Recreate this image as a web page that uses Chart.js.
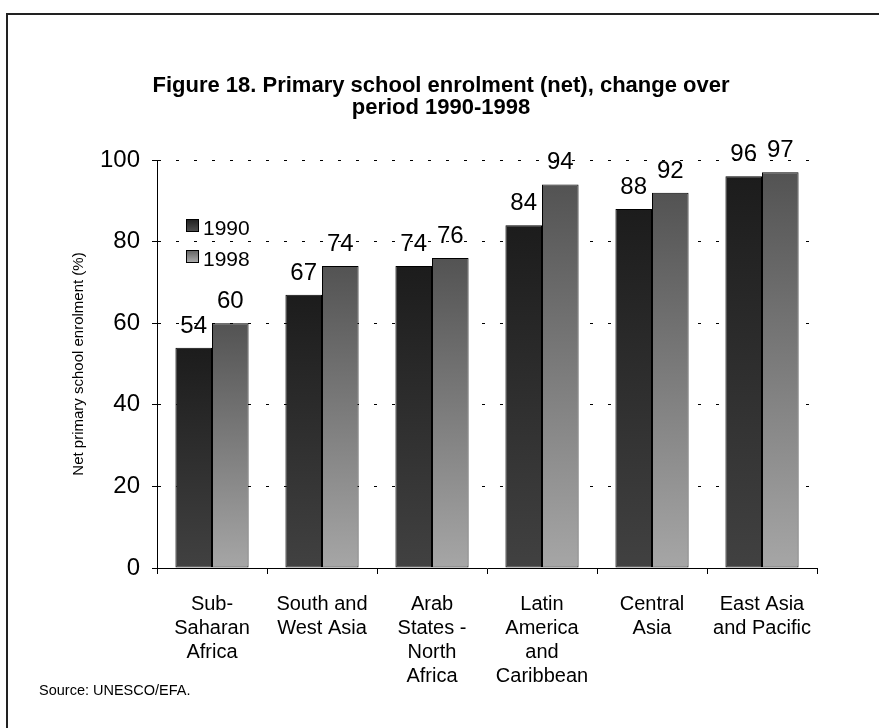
<!DOCTYPE html>
<html>
<head>
<meta charset="utf-8">
<script src="https://cdn.jsdelivr.net/npm/chart.js@4/dist/chart.umd.min.js"></script>
<style>
  html, body { margin: 0; padding: 0; background: #fff; }
  canvas { display: block; }
</style>
</head>
<body>
<canvas id="grafica" width="879" height="728"></canvas>
<script>
const regiones = [
  ['Sub-', 'Saharan', 'Africa'],
  ['South and', 'West Asia'],
  ['Arab', 'States -', 'North', 'Africa'],
  ['Latin', 'America', 'and', 'Caribbean'],
  ['Central', 'Asia'],
  ['East Asia', 'and Pacific']
];
const valores1990 = [54, 67, 74, 84, 88, 96];
const valores1998 = [60, 74, 76, 94, 92, 97];
const seriesNombres = ['1990', '1998'];
const ticksY = [0, 20, 40, 60, 80, 100];

const fuente = '"Liberation Sans", Arial, sans-serif';

// degradado por barra, oscuro arriba y claro abajo (como en Excel)
function degradado(arriba, abajo) {
  return (c) => {
    const chart = c.chart;
    if (!chart.chartArea || c.raw === undefined) return arriba;
    const y = chart.scales.y;
    const y1 = y.getPixelForValue(c.raw);
    const y0 = y.getPixelForValue(0);
    const g = chart.ctx.createLinearGradient(0, y1, 0, y0);
    g.addColorStop(0, arriba);
    g.addColorStop(1, abajo);
    return g;
  };
}

// etiquetas, leyenda, titulo y marco
const extras = {
  id: 'extras',
  afterDatasetsDraw(chart) {
    const ctx = chart.ctx;
    ctx.save();
    ctx.fillStyle = '#000';
    ctx.font = '24px ' + fuente;
    ctx.textAlign = 'center';
    ctx.textBaseline = 'alphabetic';
    chart.data.datasets.forEach((ds, i) => {
      chart.getDatasetMeta(i).data.forEach((bar, j) => {
        ctx.fillText(String(ds.data[j]), bar.x, bar.y - 15);
      });
    });
    ctx.restore();
  },
  afterDraw(chart) {
    const ctx = chart.ctx;
    ctx.save();
    // marco
    ctx.strokeStyle = '#222';
    ctx.lineWidth = 2;
    ctx.beginPath();
    ctx.moveTo(7, 740);
    ctx.lineTo(7, 14);
    ctx.lineTo(890, 14);
    ctx.stroke();

    // titulo
    ctx.fillStyle = '#000';
    ctx.textAlign = 'center';
    ctx.textBaseline = 'middle';
    ctx.font = 'bold 22px ' + fuente;
    ctx.fillText('Figure 18. Primary school enrolment (net), change over', 441, 86);
    ctx.fillText('period 1990-1998', 441, 108);

    // titulo eje y
    ctx.save();
    ctx.translate(79, 364);
    ctx.rotate(-Math.PI / 2);
    ctx.font = '15px ' + fuente;
    ctx.fillText('Net primary school enrolment (%)', 0, 0);
    ctx.restore();

    // fuente
    ctx.textAlign = 'left';
    ctx.font = '14.5px ' + fuente;
    ctx.fillText('Source: UNESCO/EFA.', 39, 691);

    // leyenda
    const cajas = [['#1e1e1e', '#505050'], ['#606060', '#b0b0b0']];
    seriesNombres.forEach((n, i) => {
      const y = 219 + i * 31;
      const g = ctx.createLinearGradient(0, y, 0, y + 13);
      g.addColorStop(0, cajas[i][0]);
      g.addColorStop(1, cajas[i][1]);
      ctx.fillStyle = g;
      ctx.fillRect(186, y, 13, 13);
      ctx.strokeStyle = '#000';
      ctx.lineWidth = 1;
      ctx.strokeRect(186.5, y + 0.5, 12, 12);
      ctx.fillStyle = '#000';
      ctx.font = '21px ' + fuente;
      ctx.textBaseline = 'middle';
      ctx.fillText(n, 203, y + 10);
    });
    ctx.restore();
  }
};

new Chart(document.getElementById('grafica').getContext('2d'), {
  type: 'bar',
  data: {
    labels: regiones,
    datasets: [{
      label: seriesNombres[0],
      data: valores1990,
      backgroundColor: degradado('#1c1c1c', '#414141'),
      borderColor: '#000',
      borderWidth: 1,
      borderSkipped: false,
      categoryPercentage: 0.665,
      barPercentage: 1
    }, {
      label: seriesNombres[1],
      data: valores1998,
      backgroundColor: degradado('#535353', '#a6a6a6'),
      borderColor: '#000',
      borderWidth: 1,
      borderSkipped: false,
      categoryPercentage: 0.665,
      barPercentage: 1
    }]
  },
  options: {
    responsive: false,
    animation: false,
    layout: { padding: { top: 160, right: 62, bottom: 0, left: 0 } },
    plugins: {
      legend: { display: false },
      title: { display: false },
      tooltip: { enabled: false }
    },
    scales: {
      x: {
        afterFit: (s) => { s.height = 160; },
        grid: { display: true, drawOnChartArea: false, offset: true, tickLength: 6, color: '#000' },
        border: { display: true, color: '#000', width: 1 },
        ticks: { color: '#000', padding: 18, font: { family: fuente, size: 20, lineHeight: 1.2 }, maxRotation: 0, autoSkip: false }
      },
      y: {
        min: 0,
        max: 100,
        afterFit: (s) => { s.width = 157; },
        afterBuildTicks: (s) => { s.ticks = ticksY.map(v => ({ value: v })); },
        grid: { color: '#000', lineWidth: 1, tickLength: 5, tickColor: '#000', tickBorderDash: [] },
        border: { display: true, color: '#000', width: 1, dash: [3, 15] },
        ticks: { color: '#000', padding: 12, font: { family: fuente, size: 24 } }
      }
    }
  },
  plugins: [extras]
});
</script>
</body>
</html>
